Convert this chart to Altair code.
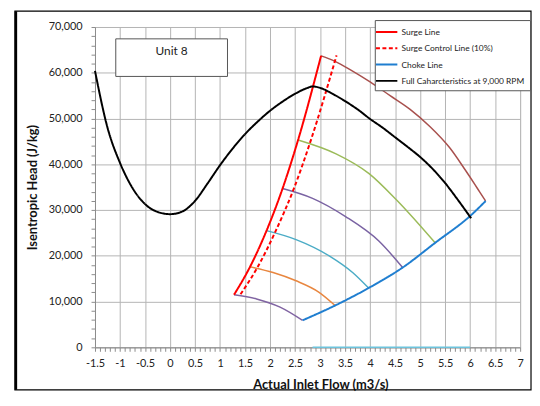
import altair as alt
import pandas as pd

# ---------------- data ----------------
black_x = [-1.5, -1.25, -1.0, -0.75, -0.5, -0.25, 0.0, 0.25, 0.5, 0.75, 1.0, 1.25, 1.5,
           1.75, 2.0, 2.25, 2.5, 2.75, 2.85, 3.0, 3.25, 3.5, 3.75, 4.0, 4.25, 4.5,
           4.75, 5.0, 5.25, 5.5, 5.75, 6.02]
black_y = [60400, 48000, 40300, 34800, 31300, 29600, 29100, 29700, 32000, 35800, 39800,
           43400, 46600, 49300, 51700, 53700, 55400, 56700, 57000, 56700, 55400, 53800,
           52000, 49900, 48000, 45900, 43800, 41600, 39000, 35900, 32300, 28200]

surge_x = [1.28, 1.60, 1.93, 2.25, 2.56, 3.02]
surge_y = [11500, 17600, 25500, 34700, 45300, 63700]

control_x = [1.41, 1.76, 2.12, 2.48, 2.82, 3.33]
control_y = [11600, 17700, 25600, 34800, 45400, 63800]

choke_x = [2.65, 3.30, 3.97, 4.65, 5.30, 6.02, 6.31]
choke_y = [5900, 9140, 12960, 17430, 22830, 28900, 31970]

speed1_x = [1.28, 1.73, 2.20, 2.65]
speed1_y = [11500, 10580, 8790, 5900]
speed2_x = [1.60, 2.06, 2.52, 2.98, 3.30]
speed2_y = [17600, 16350, 14540, 12030, 9140]
speed3_x = [1.93, 2.52, 3.19, 3.65, 3.97]
speed3_y = [25500, 23540, 19930, 16350, 12960]
speed4_x = [2.25, 2.85, 3.51, 4.18, 4.65]
speed4_y = [34700, 32550, 28570, 23180, 17430]
speed5_x = [2.56, 3.32, 3.98, 4.53, 5.30]
speed5_y = [45300, 42270, 37950, 32180, 22830]
speed6_x = [3.02, 3.3, 3.6, 4.0, 4.4, 4.8, 5.2, 5.6, 5.9, 6.1, 6.2, 6.31]
speed6_y = [63700, 62500, 60700, 58000, 55000, 52000, 48200, 43500, 38800, 35500, 33800, 31970]

zero_x = [2.85, 6.0]
zero_y = [0, 0]

speed_colors = ["#8064A2", "#E8863F", "#4BACC6", "#7A63A3", "#9BBB59", "#A8504D"]

legend_names = ["Surge Line", "Surge Control Line (10%)", "Choke Line",
                "Full Caharcteristics at 9,000 RPM"]
legend_colors = ["#FF0000", "#FF0000", "#1F7ED0", "#000000"]
legend_dash = [[1, 0], [4, 2.5], [1, 0], [1, 0]]
legend_width = [2, 2, 2, 3]

x_ticks = [round(-1.5 + 0.1 * i, 1) for i in range(86)]
y_ticks = [2000 * i for i in range(36)]

FONT = "Lato"

# ---------------- build ----------------
def frame(xs, ys, name):
    return pd.DataFrame({"x": xs, "y": ys, "series": name, "i": list(range(len(xs)))})

MAJ_X = "abs(datum.value*2 - round(datum.value*2)) < 0.001"
MAJ_Y = "datum.value % 10000 == 0"

x_axis = alt.Axis(
    values=x_ticks, tickCount=500,
    labelExpr=MAJ_X + " ? datum.value + '' : ''",
    labelOverlap=False, labelFlush=False, labelBound=False,
    gridOpacity={"condition": {"test": MAJ_X, "value": 1}, "value": 0},
    tickSize=4, tickColor="#8c8c8c", domainColor="#8c8c8c",
    gridColor="#b4b4b4", labelFont=FONT, labelFontSize=11, labelColor="#222222",
    labelPadding=6, title="Actual Inlet Flow (m3/s)", titleFont=FONT, titleFontSize=13,
    titleFontWeight="bold", titleColor="#111111", titleX=228, titleY=38,
    titleBaseline="middle", titleAnchor="middle",
)
y_axis = alt.Axis(
    values=y_ticks, tickCount=500,
    labelExpr=MAJ_Y + " ? format(datum.value, ',') : ''",
    labelOverlap=False, labelFlush=False, labelBound=False,
    gridOpacity={"condition": {"test": MAJ_Y, "value": 1}, "value": 0},
    tickSize=4, tickColor="#8c8c8c", domainColor="#8c8c8c",
    gridColor="#b4b4b4", labelFont=FONT, labelFontSize=11, labelColor="#222222",
    labelPadding=9, title="Isentropic Head (J/kg)", titleFont=FONT, titleFontSize=13,
    titleFontWeight="bold", titleColor="#111111", titleX=-63, titleY=162,
    titleBaseline="middle", titleAnchor="middle",
)

xs = alt.Scale(domain=[-1.5, 7], nice=False, zero=False)
ys = alt.Scale(domain=[0, 70000], nice=False, zero=False)

one = pd.DataFrame({"a": [0]})

border = alt.Chart(one).mark_rect(fillOpacity=0, stroke="#000000", strokeWidth=1.2).encode(
    x=alt.value(-81), x2=alt.value(441), y=alt.value(-16), y2=alt.value(367))
border_left = alt.Chart(one).mark_rule(color="#000000", strokeWidth=2.5).encode(
    x=alt.value(-80), y=alt.value(-16), y2=alt.value(367))

base_axes = alt.Chart(frame(zero_x, zero_y, "zero")).mark_line(
    color="#6CC3DC", strokeWidth=1.5).encode(
    x=alt.X("x:Q", scale=xs, axis=x_axis),
    y=alt.Y("y:Q", scale=ys, axis=y_axis),
    order="i:Q",
)

layers = [base_axes]
speeds = [(speed1_x, speed1_y), (speed2_x, speed2_y), (speed3_x, speed3_y),
          (speed4_x, speed4_y), (speed5_x, speed5_y), (speed6_x, speed6_y)]
for k, (sx, sy) in enumerate(speeds):
    layers.append(
        alt.Chart(frame(sx, sy, f"s{k}")).mark_line(
            color=speed_colors[k], strokeWidth=1.5, interpolate="monotone")
        .encode(x="x:Q", y="y:Q", order="i:Q")
    )

main_df = pd.concat([
    frame(choke_x, choke_y, legend_names[2]),
    frame(surge_x, surge_y, legend_names[0]),
    frame(control_x, control_y, legend_names[1]),
    frame(black_x, black_y, legend_names[3]),
])

legend = alt.Legend(title=None, orient="none", legendX=283, legendY=-7,
                    fillColor="white", strokeColor="#555555", padding=5,
                    labelFont=FONT, labelFontSize=8.5, labelColor="#222222",
                    symbolType="M-1.8,0H1.8", symbolSize=144, rowPadding=4.5,
                    labelOffset=8, labelLimit=200)

main = alt.Chart(main_df).mark_line(interpolate="monotone").encode(
    x="x:Q", y="y:Q", order="i:Q", detail="series:N",
    color=alt.Color("series:N", scale=alt.Scale(domain=legend_names, range=legend_colors), legend=legend),
    strokeDash=alt.StrokeDash("series:N", scale=alt.Scale(domain=legend_names, range=legend_dash), legend=legend),
    strokeWidth=alt.StrokeWidth("series:N", scale=alt.Scale(domain=legend_names, range=legend_width), legend=legend),
)
layers.append(main)

unit_box = alt.Chart(one).mark_rect(fill="white", stroke="#555555", strokeWidth=1).encode(
    x=alt.value(21), x2=alt.value(134), y=alt.value(12), y2=alt.value(50))
unit_text = alt.Chart(pd.DataFrame({"t": ["Unit 8"]})).mark_text(
    font=FONT, fontSize=12, color="#222222", align="center", baseline="middle").encode(
    x=alt.value(77.5), y=alt.value(24), text="t:N")

chart = alt.layer(border, border_left, *layers, unit_box, unit_text).properties(
    width=430, height=324,
    autosize=alt.AutoSizeParams(type="none"),
    padding={"left": 88, "top": 17, "right": 12, "bottom": 45},
).configure_view(stroke=None).configure(background="white")

chart.save("out.html", embed_options={"renderer": "svg", "actions": False})
